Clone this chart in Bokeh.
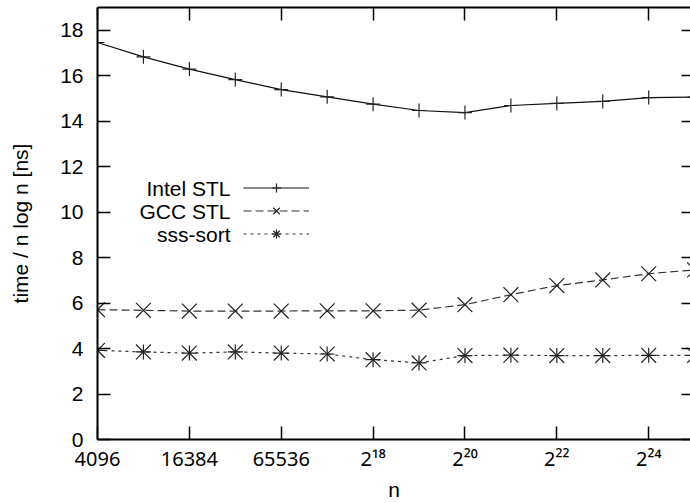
from bokeh.plotting import figure
from bokeh.models import (Range1d, FixedTicker, LogAxis, LinearAxis, Legend, LegendItem,
                          Label, CustomLabelingPolicy)
from bokeh.embed import file_html
from bokeh.resources import INLINE

n_values = [2**k for k in range(12, 26)]
intel_stl = [17.46, 16.83, 16.29, 15.83, 15.39, 15.07, 14.75, 14.47, 14.38, 14.69, 14.78, 14.87, 15.04, 15.06]
gcc_stl = [5.71, 5.68, 5.65, 5.65, 5.65, 5.66, 5.66, 5.69, 5.93, 6.37, 6.77, 7.02, 7.29, 7.46]
sss_sort = [3.92, 3.85, 3.80, 3.85, 3.80, 3.76, 3.51, 3.37, 3.69, 3.71, 3.69, 3.69, 3.70, 3.70]

x_tick_values = [2**k for k in range(12, 26, 2)]
x_tick_labels = ["4096", "16384", "65536", "2¹⁸", "2²⁰", "2²²", "2²⁴"]
y_tick_values = list(range(0, 19, 2))
series_names = ["Intel STL", "GCC STL", "sss-sort"]

FONT = "Liberation Sans"
FS = "21px"

p = figure(width=690, height=503, x_axis_type="log", output_backend="svg",
           toolbar_location=None, min_border_left=97, min_border_right=0,
           min_border_top=7, min_border_bottom=63,
           x_range=Range1d(4096, 2**24.91), y_range=Range1d(0, 19))
p.outline_line_color = None
p.grid.visible = False
p.background_fill_color = "white"
p.border_fill_color = "white"

no_labels = CustomLabelingPolicy(code="return []")

def style_axis(ax, labels=True):
    ax.major_tick_in = 13
    ax.major_tick_out = 0
    ax.minor_tick_in = 0
    ax.minor_tick_out = 0
    ax.major_tick_line_color = "black"
    ax.major_tick_line_width = 1.5
    ax.axis_line_color = "black"
    ax.axis_line_width = 2
    ax.major_label_text_font = FONT
    ax.major_label_text_font_size = FS
    ax.major_label_text_color = "black"
    ax.axis_label_text_font = FONT
    ax.axis_label_text_font_size = FS
    ax.axis_label_text_font_style = "normal"
    ax.axis_label_text_color = "black"
    if not labels:
        ax.major_label_policy = no_labels
        ax.major_label_text_font_size = "0px"
        ax.major_label_standoff = 0
        ax.axis_label_standoff = 0

xt = FixedTicker(ticks=x_tick_values, minor_ticks=[])
yt = FixedTicker(ticks=y_tick_values, minor_ticks=[])

xa = p.xaxis[0]
xa.ticker = xt
xa.major_label_overrides = {v: l for v, l in zip(x_tick_values, x_tick_labels)}
style_axis(xa)
xa.major_label_text_font = "Noto Sans"
xa.major_label_text_font_size = "20px"
xa.major_label_standoff = 5
xa.axis_label = "n"
xa.axis_label_standoff = 3

ya = p.yaxis[0]
ya.ticker = yt
style_axis(ya)
ya.major_label_standoff = 14
ya.axis_label = "time / n log n [ns]"
ya.axis_label_standoff = 25

top = LogAxis(ticker=FixedTicker(ticks=x_tick_values, minor_ticks=[]))
style_axis(top, labels=False)
p.add_layout(top, "above")

right = LinearAxis(ticker=FixedTicker(ticks=y_tick_values, minor_ticks=[]))
style_axis(right, labels=False)
right.axis_line_color = None
right.major_tick_in = 9
p.add_layout(right, "right")

r1l = p.line(n_values, intel_stl, line_color="#111111", line_width=1.2)
r1m = p.scatter(n_values, intel_stl, marker="cross", size=14, line_color="#222222", line_width=1.2)
r2l = p.line(n_values, gcc_stl, line_color="#333333", line_width=1.2, line_dash="8 4")
r2m = p.scatter(n_values, gcc_stl, marker="x", size=21, line_color="#222222", line_width=1.2)
r3l = p.line(n_values, sss_sort, line_color="#333333", line_width=1.2, line_dash="3 4")
r3a = p.scatter(n_values, sss_sort, marker="cross", size=15, line_color="#222222", line_width=1.2)
r3b = p.scatter(n_values, sss_sort, marker="x", size=21, line_color="#222222", line_width=1.2)

legend = Legend(items=[
    LegendItem(label=" ", renderers=[r1l, r1m]),
    LegendItem(label=" ", renderers=[r2l, r2m]),
    LegendItem(label=" ", renderers=[r3l, r3a, r3b]),
], location=(146, 194), padding=0, margin=0, spacing=0, label_height=23,
   glyph_height=23, glyph_width=66, border_line_color=None,
   background_fill_alpha=0, label_text_font_size="12px", label_width=1, label_standoff=0)
p.add_layout(legend, "center")

for i, name in enumerate(series_names):
    p.add_layout(Label(x=133, y=251 - 23 * i, x_units="screen", y_units="screen",
                       text=name, text_align="right", text_baseline="middle",
                       text_font=FONT, text_font_size=FS, text_color="black"))

open("out.html", "w").write(file_html(p, INLINE))
